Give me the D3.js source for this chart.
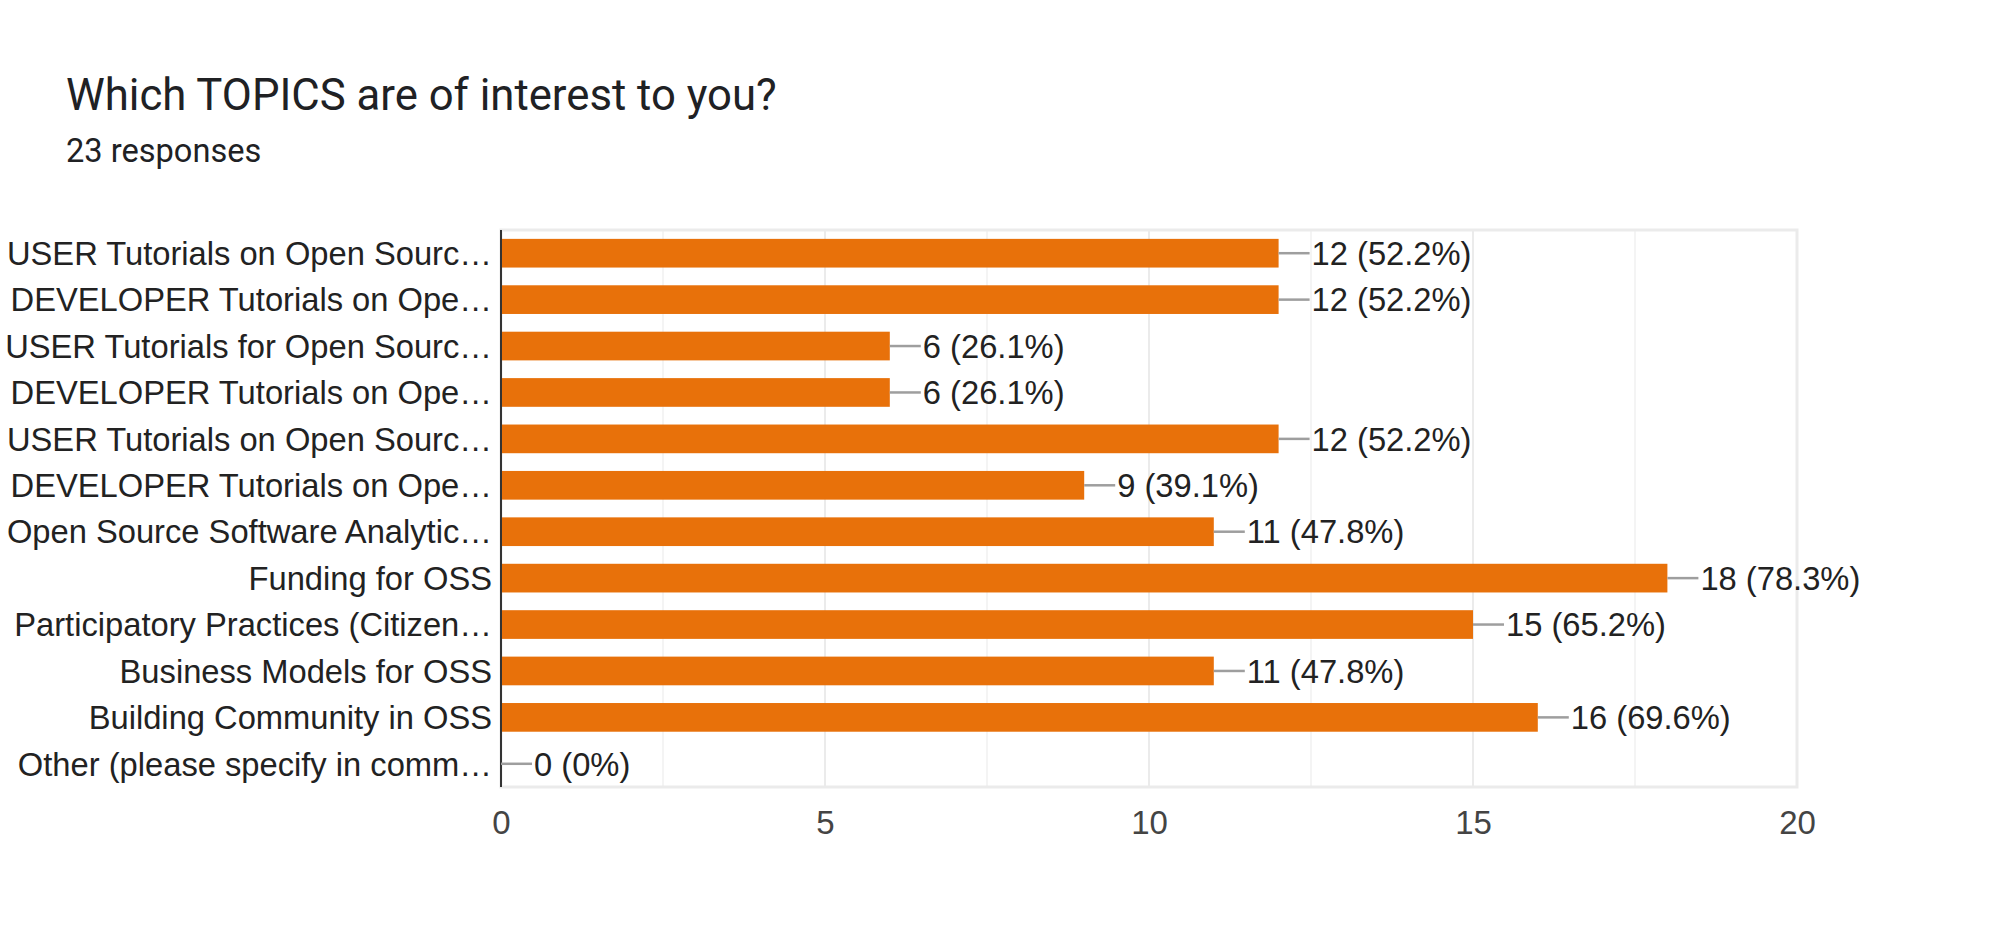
<!DOCTYPE html>
<html>
<head>
<meta charset="utf-8">
<script src="https://cdn.jsdelivr.net/npm/d3@7"></script>
<style>
  body { margin: 0; background: #fff; }
  svg { display: block; }
</style>
</head>
<body>
<div id="grafico"></div>
<script>
// Datos
const titulo = 'Which TOPICS are of interest to you?';
const subtitulo = '23 responses';
const categorias = [
  'USER Tutorials on Open Sourc…',
  'DEVELOPER Tutorials on Ope…',
  'USER Tutorials for Open Sourc…',
  'DEVELOPER Tutorials on Ope…',
  'USER Tutorials on Open Sourc…',
  'DEVELOPER Tutorials on Ope…',
  'Open Source Software Analytic…',
  'Funding for OSS',
  'Participatory Practices (Citizen…',
  'Business Models for OSS',
  'Building Community in OSS',
  'Other (please specify in comm…'
];
const respuestas = [12, 12, 6, 6, 12, 9, 11, 18, 15, 11, 16, 0];
const porcentajes = ['52.2%', '52.2%', '26.1%', '26.1%', '52.2%', '39.1%', '47.8%', '78.3%', '65.2%', '47.8%', '69.6%', '0%'];
const ticksX = [0, 5, 10, 15, 20];
const ticksMenores = [2.5, 7.5, 12.5, 17.5];

const width = 2000;
const height = 951;
const margen = { top: 230, right: 203, bottom: 164, left: 501 };

const svg = d3.select('#grafico').append('svg')
  .attr('width', width)
  .attr('height', height);

// Titulo
svg.append('text')
  .attr('x', 66)
  .attr('y', 110)
  .style('font-family', 'Roboto, sans-serif')
  .style('font-size', '43.7px')
  .style('fill', '#202124')
  .text(titulo);

svg.append('text')
  .attr('x', 66)
  .attr('y', 162)
  .style('font-family', 'Roboto, sans-serif')
  .style('font-size', '32.6px')
  .style('fill', '#202124')
  .text(subtitulo);

const x = d3.scaleLinear()
  .domain([0, 20])
  .range([margen.left, width - margen.right]);

const y = d3.scaleBand()
  .domain(d3.range(categorias.length))
  .range([margen.top, height - margen.bottom])
  .paddingInner(0.382)
  .paddingOuter(0.191);

const fuente = '"Liberation Sans", Arial, sans-serif';

// Lineas de grilla
svg.append('g')
  .selectAll('line')
  .data(ticksMenores)
  .enter()
  .append('line')
  .attr('x1', d => x(d))
  .attr('x2', d => x(d))
  .attr('y1', margen.top)
  .attr('y2', height - margen.bottom)
  .attr('stroke', '#f4f4f4')
  .attr('stroke-width', 2);

svg.append('g')
  .selectAll('line')
  .data(ticksX.slice(1, -1))
  .enter()
  .append('line')
  .attr('x1', d => x(d))
  .attr('x2', d => x(d))
  .attr('y1', margen.top)
  .attr('y2', height - margen.bottom)
  .attr('stroke', '#ebebeb')
  .attr('stroke-width', 2);

// Marco
svg.append('rect')
  .attr('x', x(0))
  .attr('y', margen.top)
  .attr('width', x(20) - x(0))
  .attr('height', height - margen.bottom - margen.top)
  .attr('fill', 'none')
  .attr('stroke', '#ebebeb')
  .attr('stroke-width', 3);

// Barras
svg.append('g')
  .selectAll('rect')
  .data(respuestas)
  .enter()
  .append('rect')
  .attr('x', x(0))
  .attr('y', (d, i) => y(i))
  .attr('width', d => x(d) - x(0))
  .attr('height', y.bandwidth())
  .attr('fill', '#e8710a');

// Linea base
svg.append('line')
  .attr('x1', x(0))
  .attr('x2', x(0))
  .attr('y1', margen.top)
  .attr('y2', height - margen.bottom)
  .attr('stroke', '#333')
  .attr('stroke-width', 2);

// Etiquetas de valores
const etiquetas = svg.append('g')
  .selectAll('g')
  .data(respuestas)
  .enter()
  .append('g')
  .attr('transform', (d, i) => `translate(${x(d)}, ${y(i) + y.bandwidth() / 2})`);

etiquetas.append('line')
  .attr('x1', 0)
  .attr('x2', 31)
  .attr('stroke', '#9e9e9e')
  .attr('stroke-width', 2.5);

etiquetas.append('text')
  .attr('x', 33)
  .attr('dy', '0.36em')
  .style('font-family', fuente)
  .style('font-size', '32.7px')
  .style('fill', '#222')
  .text((d, i) => `${d} (${porcentajes[i]})`);

// Eje Y (categorias)
svg.append('g')
  .selectAll('text')
  .data(categorias)
  .enter()
  .append('text')
  .attr('x', x(0) - 9)
  .attr('y', (d, i) => y(i) + y.bandwidth() / 2)
  .attr('dy', '0.36em')
  .attr('text-anchor', 'end')
  .style('font-family', fuente)
  .style('font-size', '32.7px')
  .style('fill', '#222')
  .text(d => d);

// Eje X
const ejeX = svg.append('g')
  .attr('transform', `translate(0, ${height - margen.bottom})`)
  .call(d3.axisBottom(x).tickValues(ticksX).tickSize(0).tickPadding(24));

ejeX.select('.domain').remove();
ejeX.selectAll('text')
  .style('font-family', fuente)
  .style('font-size', '33px')
  .style('fill', '#444');
</script>
</body>
</html>
